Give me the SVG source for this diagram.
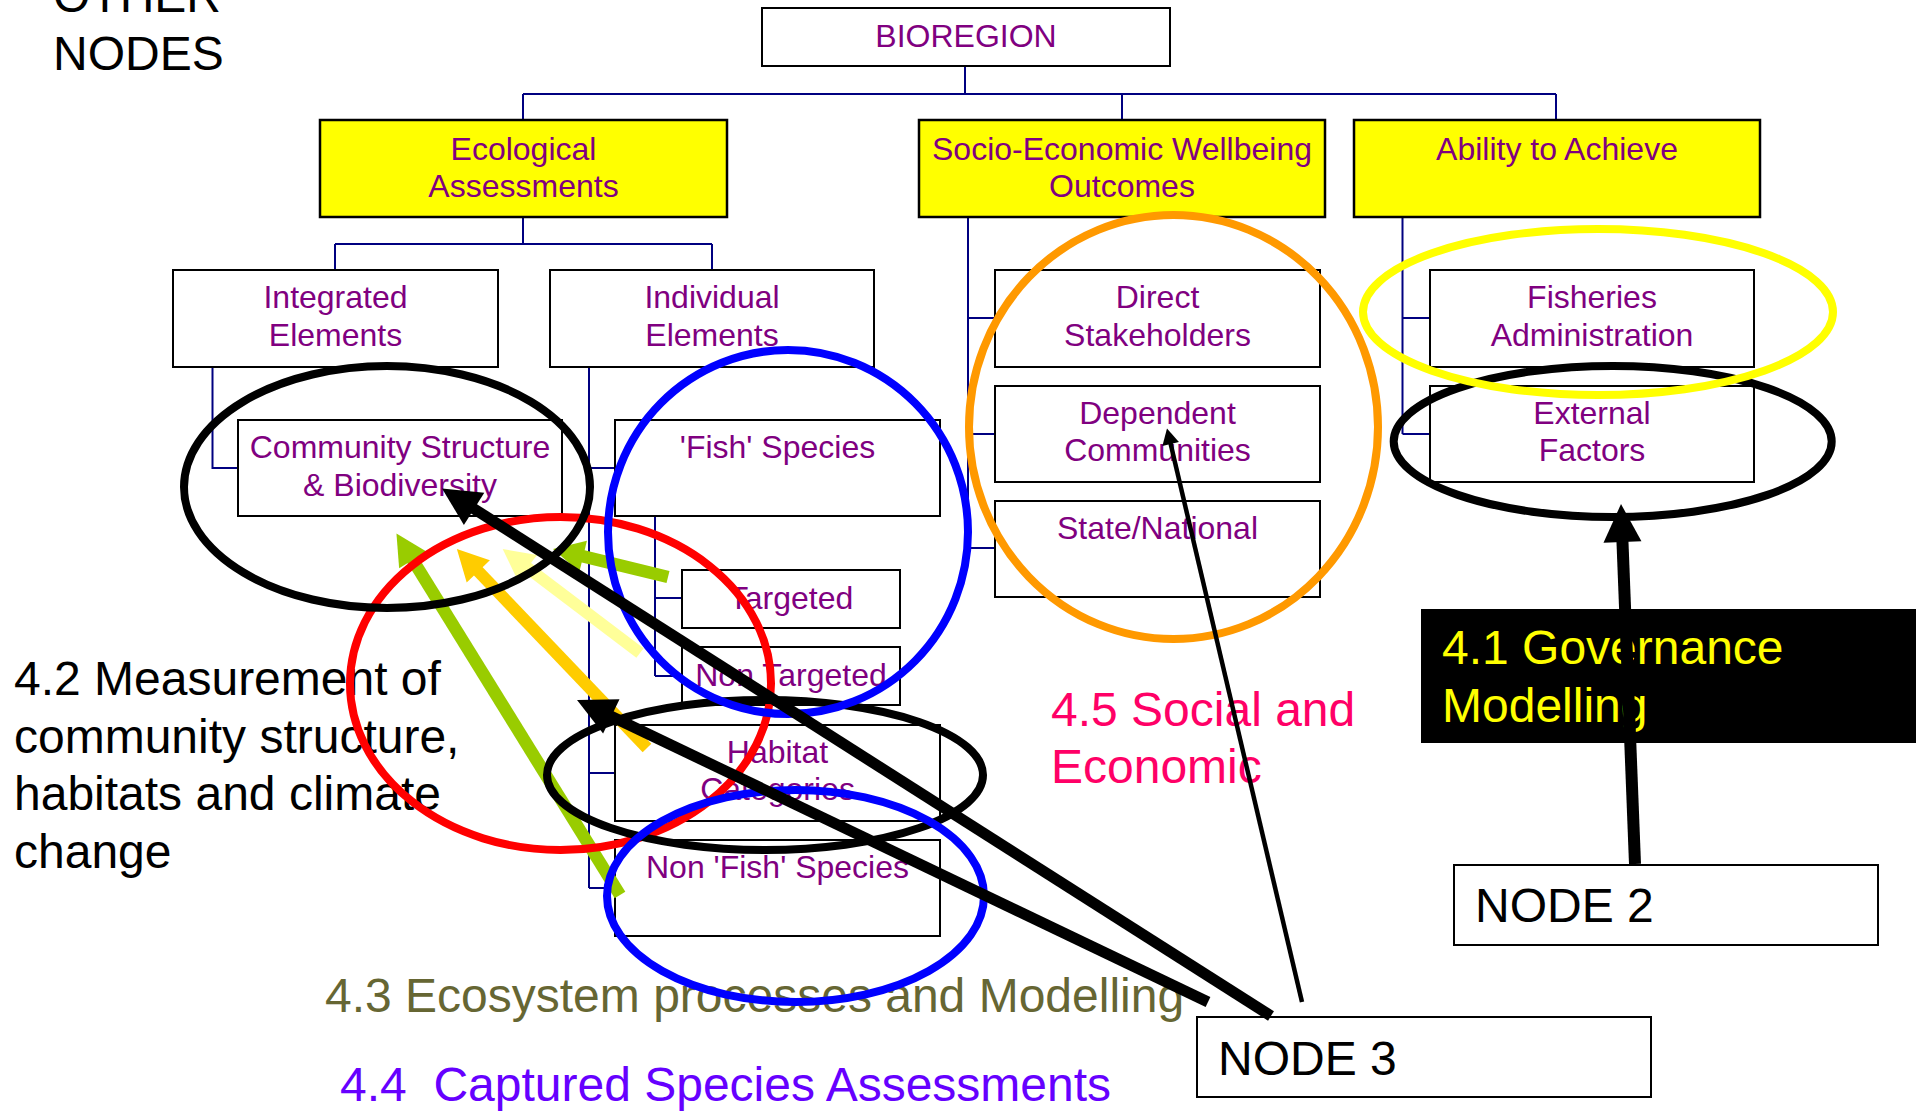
<svg xmlns="http://www.w3.org/2000/svg" width="1918" height="1111" viewBox="0 0 1918 1111">
<style>
.box{fill:#FFFFFF;stroke:#000000;stroke-width:2}
.ybox{fill:#FFFF00;stroke:#000000;stroke-width:2.5}
.bt{font-family:"Liberation Sans",Arial,sans-serif;font-size:32px;fill:#800080;text-anchor:middle}
.lt{font-family:"Liberation Sans",Arial,sans-serif;font-size:48px}
.con{fill:none;stroke:#000080;stroke-width:2}
.ell{fill:none;stroke-width:8}
.arr{fill:none;stroke-linecap:butt}
</style>
<defs>
<marker id="mBig" markerUnits="userSpaceOnUse" markerWidth="44" markerHeight="44" refX="2" refY="0" viewBox="0 -22 44 44" orient="auto" overflow="visible"><path d="M0,-19 L38,0 L0,19 Z" fill="#000000"/></marker>
<marker id="mThin" markerUnits="userSpaceOnUse" markerWidth="20" markerHeight="20" refX="2" refY="0" viewBox="0 -10 20 20" orient="auto" overflow="visible"><path d="M0,-8.5 L16,0 L0,8.5 Z" fill="#000000"/></marker>
<marker id="mGreen" markerUnits="userSpaceOnUse" markerWidth="36" markerHeight="36" refX="2" refY="0" viewBox="0 -18 36 36" orient="auto" overflow="visible"><path d="M0,-16 L31,0 L0,16 Z" fill="#99CC00"/></marker>
<marker id="mOrange" markerUnits="userSpaceOnUse" markerWidth="36" markerHeight="36" refX="2" refY="0" viewBox="0 -18 36 36" orient="auto" overflow="visible"><path d="M0,-16 L31,0 L0,16 Z" fill="#FFCC00"/></marker>
<marker id="mLight" markerUnits="userSpaceOnUse" markerWidth="36" markerHeight="36" refX="2" refY="0" viewBox="0 -18 36 36" orient="auto" overflow="visible"><path d="M0,-16 L31,0 L0,16 Z" fill="#FFFF99"/></marker>
</defs>
<rect x="0" y="0" width="1918" height="1111" fill="#FFFFFF"/>

<g id="connectors">
<path class="con" d="M965,66 V94 M523,94 H1556 M523,94 V120 M1122,94 V120 M1556,94 V120"/>
<path class="con" d="M523,217 V244 M335,244 H712 M335,244 V270 M712,244 V270"/>
<path class="con" d="M212.5,367 V468 H238"/>
<path class="con" d="M589,367 V888 M589,468 H615 M589,773 H615 M589,888 H615"/>
<path class="con" d="M655,516 V676 M655,598 H682 M655,676 H682"/>
<path class="con" d="M968,217 V548 M968,318 H995 M968,434 H995 M968,548 H995"/>
<path class="con" d="M1402.5,217 V434 M1402.5,318 H1430 M1402.5,434 H1430"/>
</g>

<g id="node-bioregion"><rect class="box" x="762" y="8" width="408" height="58"/><text class="bt" x="966" y="47">BIOREGION</text></g>
<g id="node-ecological"><rect class="ybox" x="320" y="120" width="407" height="97"/><text class="bt" x="523.5" y="160">Ecological</text><text class="bt" x="523.5" y="197">Assessments</text></g>
<g id="node-socio"><rect class="ybox" x="919" y="120" width="406" height="97"/><text class="bt" x="1122" y="160">Socio-Economic Wellbeing</text><text class="bt" x="1122" y="197">Outcomes</text></g>
<g id="node-ability"><rect class="ybox" x="1354" y="120" width="406" height="97"/><text class="bt" x="1557" y="160">Ability to Achieve</text></g>
<g id="node-integrated"><rect class="box" x="173" y="270" width="325" height="97"/><text class="bt" x="335.5" y="308">Integrated</text><text class="bt" x="335.5" y="345.5">Elements</text></g>
<g id="node-individual"><rect class="box" x="550" y="270" width="324" height="97"/><text class="bt" x="712" y="308">Individual</text><text class="bt" x="712" y="345.5">Elements</text></g>
<g id="node-community"><rect class="box" x="238" y="420" width="324" height="96"/><text class="bt" x="400" y="458">Community Structure</text><text class="bt" x="400" y="496">&amp; Biodiversity</text></g>
<g id="node-fish"><rect class="box" x="615" y="420" width="325" height="96"/><text class="bt" x="777.5" y="458">'Fish' Species</text></g>
<g id="node-targeted"><rect class="box" x="682" y="570" width="218" height="58"/><text class="bt" x="791" y="608.5">Targeted</text></g>
<g id="node-nontargeted"><rect class="box" x="682" y="647" width="218" height="58"/><text class="bt" x="791" y="686">Non Targeted</text></g>
<g id="node-habitat"><rect class="box" x="615" y="725" width="325" height="96"/><text class="bt" x="777.5" y="763">Habitat</text><text class="bt" x="777.5" y="800">Categories</text></g>
<g id="node-nonfish"><rect class="box" x="615" y="840" width="325" height="96"/><text class="bt" x="777.5" y="878">Non 'Fish' Species</text></g>
<g id="node-direct"><rect class="box" x="995" y="270" width="325" height="97"/><text class="bt" x="1157.5" y="308">Direct</text><text class="bt" x="1157.5" y="345.5">Stakeholders</text></g>
<g id="node-dependent"><rect class="box" x="995" y="386" width="325" height="96"/><text class="bt" x="1157.5" y="424">Dependent</text><text class="bt" x="1157.5" y="461">Communities</text></g>
<g id="node-state"><rect class="box" x="995" y="501" width="325" height="96"/><text class="bt" x="1157.5" y="539">State/National</text></g>
<g id="node-fisheries"><rect class="box" x="1430" y="270" width="324" height="97"/><text class="bt" x="1592" y="308">Fisheries</text><text class="bt" x="1592" y="345.5">Administration</text></g>
<g id="node-external"><rect class="box" x="1430" y="386" width="324" height="96"/><text class="bt" x="1592" y="424">External</text><text class="bt" x="1592" y="461">Factors</text></g>
<g id="node-2"><rect class="box" x="1454" y="865" width="424" height="80"/><text class="lt" x="1475" y="922" fill="#000000">NODE 2</text></g>
<g id="node-3"><rect class="box" x="1197" y="1017" width="454" height="80"/><text class="lt" x="1218" y="1075" fill="#000000">NODE 3</text></g>
<g id="node-governance"><rect x="1421" y="609" width="495" height="134" fill="#000000"/><text class="lt" fill="#FFFF00"><tspan x="1442" y="664">4.1 Governance</tspan><tspan x="1442" y="721.5">Modelling</tspan></text></g>

<g id="labels">
<text class="lt" fill="#000000"><tspan x="53" y="12">OTHER</tspan><tspan x="53" y="69.5">NODES</tspan></text>
<text class="lt" fill="#000000"><tspan x="14" y="695">4.2 Measurement of</tspan><tspan x="14" y="752.5">community structure,</tspan><tspan x="14" y="810">habitats and climate</tspan><tspan x="14" y="867.5">change</tspan></text>
<text class="lt" fill="#FF0066"><tspan x="1051" y="725.5">4.5 Social and</tspan><tspan x="1051" y="782.5">Economic</tspan></text>
<text class="lt" fill="#666633" x="325" y="1011.5">4.3 Ecosystem processes and Modelling</text>
<text class="lt" fill="#6600FF" x="340" y="1101" xml:space="preserve">4.4  Captured Species Assessments</text>
</g>

<g id="colour-arrows">
<path class="arr" d="M620,895 L411.7,558.2" stroke="#99CC00" stroke-width="12.5" marker-end="url(#mGreen)"/>
<path class="arr" d="M668,577 L581.2,555.9" stroke="#99CC00" stroke-width="12.5" marker-end="url(#mGreen)"/>
<path class="arr" d="M640,653 L525.8,566.5" stroke="#FFFF99" stroke-width="12" marker-end="url(#mLight)"/>
<path class="arr" d="M647,748 L476.9,569.9" stroke="#FFCC00" stroke-width="12" marker-end="url(#mOrange)"/>
</g>

<g id="ellipses">
<ellipse class="ell" cx="560.5" cy="683.5" rx="210.5" ry="166.5" stroke="#FF0000"/>
<ellipse class="ell" cx="387" cy="487" rx="203" ry="121" stroke="#000000" stroke-width="10"/>
<ellipse class="ell" cx="765" cy="775" rx="218" ry="75" stroke="#000000" stroke-width="10"/>
<ellipse class="ell" cx="788" cy="532" rx="180" ry="182" stroke="#0000FF"/>
<ellipse class="ell" cx="795.5" cy="896" rx="188.5" ry="106" stroke="#0000FF"/>
<ellipse class="ell" cx="1173.5" cy="427" rx="204.5" ry="212" stroke="#FF9900"/>
<ellipse class="ell" cx="1612.7" cy="441.5" rx="219" ry="75.5" stroke="#000000" stroke-width="10"/>
<ellipse class="ell" cx="1598" cy="312" rx="235" ry="83" stroke="#FFFF00"/>
</g>

<g id="black-arrows">
<path class="arr" d="M1271,1016 L472.4,507.8" stroke="#000000" stroke-width="11" marker-end="url(#mBig)"/>
<path class="arr" d="M1208,1002 L609.5,715.5" stroke="#000000" stroke-width="11" marker-end="url(#mBig)"/>
<path class="arr" d="M1635,864 L1622.4,540" stroke="#000000" stroke-width="12" marker-end="url(#mBig)"/>
<path class="arr" d="M1302,1002 L1170.2,442.1" stroke="#000000" stroke-width="4.5" marker-end="url(#mThin)"/>
</g>
</svg>
